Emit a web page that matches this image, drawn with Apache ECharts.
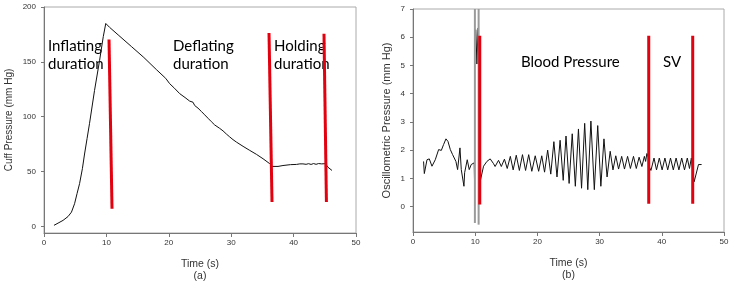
<!DOCTYPE html>
<html>
<head>
<meta charset="utf-8">
<script src="https://cdn.jsdelivr.net/npm/echarts@6/dist/echarts.min.js"></script>
<style>
html, body { margin: 0; padding: 0; background: #fff; }
#chart { width: 732px; height: 284px; }
</style>
</head>
<body>
<div id="chart"></div>
<script>
// (a) cuff pressure
const cuffTime = [1.6, 2.25, 3.05, 3.85, 4.4, 4.9, 5.3, 5.7, 6.15, 6.5, 6.9, 7.3, 8.1, 8.9, 9.5, 9.9,
    10.5, 12, 14, 16, 18, 19.5, 20.14, 20.9, 21.75, 22.6, 23.35, 23.62, 23.88, 24.15, 24.42, 24.68,
    24.95, 25.22, 25.48, 25.75, 26.02, 26.28, 26.55, 26.82, 27.08, 27.35, 27.62, 28.15, 28.42, 28.69,
    29.23, 29.5, 29.76, 30.29, 30.83, 31.9, 32.97, 34.04, 35.1, 36.17, 36.44, 36.6, 37.5, 37.77, 38.3,
    38.6, 39.5, 40.45, 41, 41.2, 41.5, 42, 42.4, 42.8, 43.2, 43.6, 44, 44.5, 45.1, 45.5, 46.15]
const cuffValue = [1, 3, 5.5, 9, 13, 20.7, 30, 39, 52.6, 66, 80, 94, 124, 151, 173, 185,
    181.5, 174, 164, 154, 143, 135, 130.1, 126, 121, 117.5, 114.2, 112.4, 113.2, 110.2, 111.1, 107.8,
    108.6, 104.8, 106.0, 101.7, 102.6, 98.6, 99.5, 95.5, 96.4, 92.5, 93.4, 89.4, 90.3, 87.1,
    84.2, 84.9, 81.6, 79.1, 76.9, 73, 69.3, 65.7, 61.7, 57.2, 55.6, 54.7, 54.7, 56.2, 55.5,
    56.5, 56.3, 56.5, 57, 56.3, 57, 56.6, 57.2, 56.5, 57.3, 56.6, 57.3, 57, 57.2, 54, 51]
const cuffMarkers = [
    [[10.42, 170.3], [10.9, 16.1]],
    [[36.06, 176.3], [36.54, 22.2]],
    [[44.87, 175.7], [45.26, 22.2]]
]

// (b) oscillometric pressure ('-' = gap)
const oscTime = [1.7, 1.82, 2.25, 2.45, 2.62, 3.05, 3.58, 4.12, 4.55, 4.92, 5.3, 5.62, 6.0, 6.37, 6.69,
    6.9, 7.17, 7.3, 7.55, 7.76, 8.19, 8.3, 8.72, 9.04, 9.36, 9.63, 9.84, 9.9,
    10.0, 10.1, 10.28, 10.45, 10.5,
    10.81, 11.34, 11.88, 12.41, 12.7, 12.95, 13.2, 13.75, 14.2, 14.7, 15.15, 15.65, 16.1, 16.6, 17.1,
    17.6, 18.1, 18.6, 19.1, 19.65, 20.2, 20.7, 21.15, 21.65, 22.15, 22.65, 23.15, 23.65, 24.15, 24.6,
    25.1, 25.6, 26.1, 26.6, 27.1, 27.6, 28.1, 28.6, 29.15, 29.7, 30.2, 30.7, 31.2, 31.7, 32.15, 32.6,
    33.05, 33.55, 34.0, 34.5, 34.95, 35.45, 35.9, 36.35, 36.8, 37.2, 37.4, 37.6, 37.85, 37.95, 38.25,
    38.75, 39.15, 39.6, 40.05, 40.5, 40.95, 41.4, 41.85, 42.3, 42.75, 43.2, 43.65, 44.1, 44.45, 44.75,
    44.95, 45.2, 45.5, 45.9, 46.1, 46.4]
const oscValue = [1.6, 1.17, 1.66, 1.7, 1.69, 1.43, 1.66, 2.02, 1.99, 2.2, 2.4, 2.31, 2.02, 1.84, 1.78,
    1.6, 1.31, 1.28, 2.08, 1.31, 0.72, 1.2, 1.66, 1.31, 1.49, 1.52, 1.55, 0.8,
    '-', 6.27, 5.05, 6.33, '-',
    0.9, 1.43, 1.6, 1.69, 1.76, 1.52, 1.42, 1.64, 1.42, 1.68, 1.35, 1.78, 1.3, 1.82, 1.28,
    1.84, 1.28, 1.84, 1.25, 1.8, 1.25, 1.8, 1.22, 2.0, 1.15, 2.3, 1.05, 2.35, 0.93, 2.5,
    0.82, 2.58, 0.72, 2.75, 0.65, 2.95, 0.6, 3.03, 0.6, 2.87, 0.72, 2.4, 1.05, 1.96, 1.3, 1.8,
    1.33, 1.78, 1.33, 1.78, 1.35, 1.78, 1.35, 1.75, 1.42, 1.78, 1.6, 1.88, 1.75, 1.43, 1.28,
    1.72, 1.3, 1.72, 1.3, 1.72, 1.3, 1.72, 1.3, 1.72, 1.3, 1.72, 1.3, 1.72, 1.35, 1.72,
    1.68, 0.88, 0.95, 1.49, 1.52, 1.49]
const oscClipped = [
    [[9.95, 7], [9.95, -0.58]],
    [[10.55, 7], [10.55, -0.64]]
]
const oscMarkers = [
    [[10.73, 6.05], [10.73, 0.07]],
    [[37.9, 6.05], [37.9, 0.1]],
    [[44.97, 6.05], [44.97, 0.1]]
]
const cuffTicks = [0, 50, 100, 150, 200]
const oscTicks = [0, 1, 2, 3, 4, 5, 6, 7]

const chart = echarts.init(document.getElementById('chart'))

const tickFont = { fontFamily: 'Liberation Sans', fontSize: 8, color: '#333' }
const nameFont = { fontFamily: 'Liberation Sans', fontSize: 10.5, color: '#333' }
const noteFont = '15px Lato'

const xAxisBase = (idx, sub) => ({
    type: 'value',
    gridIndex: idx,
    min: 0,
    max: 50,
    interval: 10,
    name: 'Time (s)\n' + sub,
    nameLocation: 'middle',
    nameGap: 25,
    nameTextStyle: { ...nameFont, lineHeight: 12 },
    axisLine: { show: true, onZero: false, lineStyle: { color: '#777', width: 1 } },
    axisTick: { show: true, inside: false, length: 4, lineStyle: { color: '#777' } },
    axisLabel: { ...tickFont, margin: 6 },
    splitLine: { show: false }
})

const zip = (xs, ys) => xs.map((x, i) => [x, ys[i]])

const segSeries = (xi, yi, segs, color, width) => segs.map(s => ({
    type: 'line',
    xAxisIndex: xi,
    yAxisIndex: yi,
    data: s,
    symbol: 'none',
    silent: true,
    lineStyle: { color, width },
    z: 3
}))

const note = (text, x, y) => ({
    type: 'text',
    x,
    y,
    style: { text, font: noteFont, fill: '#000', textVerticalAlign: 'middle' }
})

const option = {
    animation: false,
    grid: [
        { left: 44, right: 376, top: 7, bottom: 51, show: true, borderColor: '#aaa', borderWidth: 1, outerBoundsMode: 'none' },
        { left: 413, right: 8, top: 9, bottom: 52, show: true, borderColor: '#aaa', borderWidth: 1, outerBoundsMode: 'none' }
    ],
    xAxis: [xAxisBase(0, '(a)'), xAxisBase(1, '(b)')],
    yAxis: [
        {
            type: 'value',
            gridIndex: 0,
            min: -6,
            max: 200,
            name: 'Cuff Pressure (mm Hg)',
            nameLocation: 'middle',
            nameGap: 30,
            nameTextStyle: { ...nameFont, fontSize: 10 },
            axisLine: { show: true, onZero: false, lineStyle: { color: '#777', width: 1 } },
            axisTick: { show: true, length: 3, customValues: cuffTicks, lineStyle: { color: '#777' } },
            axisLabel: { ...tickFont, margin: 8, customValues: cuffTicks },
            splitLine: { show: false }
        },
        {
            type: 'value',
            gridIndex: 1,
            min: -0.9,
            max: 7,
            name: 'Oscillometric Pressure (mm Hg)',
            nameLocation: 'middle',
            nameGap: 21,
            nameTextStyle: { ...nameFont, fontSize: 11 },
            axisLine: { show: true, onZero: false, lineStyle: { color: '#777', width: 1 } },
            axisTick: { show: true, length: 3, customValues: oscTicks, lineStyle: { color: '#777' } },
            axisLabel: { ...tickFont, margin: 8, customValues: oscTicks },
            splitLine: { show: false }
        }
    ],
    series: [
        {
            type: 'line',
            xAxisIndex: 0,
            yAxisIndex: 0,
            data: zip(cuffTime, cuffValue),
            symbol: 'none',
            lineStyle: { color: '#111', width: 1 },
            z: 2
        },
        ...segSeries(0, 0, cuffMarkers, '#e3000f', 3),
        ...segSeries(1, 1, oscClipped, '#9a9a9a', 2),
        {
            type: 'line',
            xAxisIndex: 1,
            yAxisIndex: 1,
            data: zip(oscTime, oscValue),
            symbol: 'none',
            connectNulls: false,
            lineStyle: { color: '#111', width: 1 },
            z: 2
        },
        ...segSeries(1, 1, oscMarkers, '#e3000f', 3)
    ],
    graphic: [
        note('Inflating', 48, 46),
        note('duration', 48, 64),
        note('Deflating', 173, 46),
        note('duration', 173, 64),
        note('Holding', 274, 46),
        note('duration', 274, 64),
        note('Blood Pressure', 521, 62),
        note('SV', 663, 62)
    ]
}
chart.setOption(option)
</script>
</body>
</html>
